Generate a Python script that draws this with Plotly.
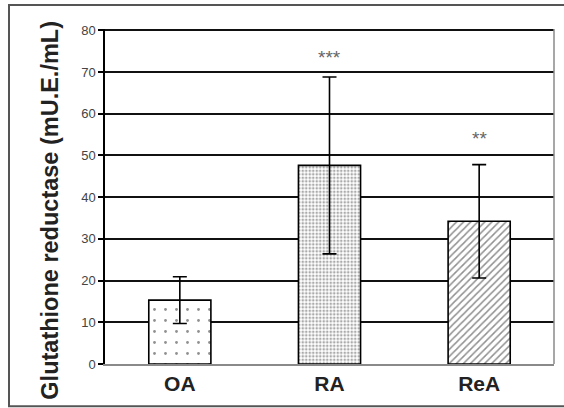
import plotly.graph_objects as go

categories = ["OA", "RA", "ReA"]
means = [15.3, 47.6, 34.2]
errors = [5.6, 21.2, 13.6]
significance = ["", "***", "**"]
sig_y = [0, 73.5, 54]
patterns = [".", ".", "/"]
y_ticks = [0, 10, 20, 30, 40, 50, 60, 70, 80]

FONT = "Liberation Sans, Arial, sans-serif"

fig = go.Figure()
fig.add_trace(go.Bar(
    x=categories, y=means, width=0.415,
    marker=dict(
        color="white",
        line=dict(color="black", width=1.6),
        pattern=dict(
            shape=patterns,
            size=[11, 3.5, 5],
            solidity=[0.05, 0.45, 0.3],
            fgcolor=["#222222", "#555555", "#222222"],
            bgcolor="white",
            fillmode="overlay",
        ),
    ),
    error_y=dict(type="data", array=errors, visible=True, color="black",
                 thickness=1.6, width=7),
    showlegend=False,
))

for c, s, yv in zip(categories, significance, sig_y):
    if s:
        fig.add_annotation(x=c, y=yv, text=s, showarrow=False,
                           font=dict(family=FONT, size=19, color="#666666"))

fig.add_annotation(
    xref="paper", yref="paper", x=-0.123, y=0.46,
    xanchor="center", yanchor="middle",
    text="<b>Glutathione reductase (mU.E./mL)</b>", textangle=-90,
    showarrow=False, font=dict(family=FONT, size=23.5, color="#222222"),
)

# plot box (right side) and outer frame
fig.add_shape(type="line", xref="paper", yref="paper", x0=1, x1=1, y0=0, y1=1,
              line=dict(color="#8a8a8a", width=1.5))
fig.add_shape(type="rect", xref="paper", yref="paper",
              x0=-0.2138, x1=1.05, y0=-0.126, y1=1.072,
              line=dict(color="#555555", width=2))

fig.update_layout(
    width=564, height=408,
    margin=dict(l=105, r=10, t=29, b=44),
    paper_bgcolor="white", plot_bgcolor="white",
    bargap=0.585,
    font=dict(family=FONT),
    xaxis=dict(
        showline=True, linecolor="#8a8a8a", linewidth=1.5, mirror=False,
        showgrid=False, ticks="",
        tickfont=dict(family=FONT, size=21, color="#222222"),
        tickprefix="<b>", ticksuffix="</b>",
    ),
    yaxis=dict(
        range=[0, 80.3], tickvals=y_ticks,
        showline=True, linecolor="black", linewidth=1.5,
        ticks="outside", ticklen=5, tickcolor="black", tickwidth=1.5,
        showgrid=True, gridcolor="#111111", gridwidth=1.5,
        zeroline=False,
        tickfont=dict(family=FONT, size=13, color="#444444"),
    ),
)

fig.write_html("out.html", config={"displayModeBar": False},
               post_script="document.body.style.margin='0';document.body.style.overflow='hidden';")
